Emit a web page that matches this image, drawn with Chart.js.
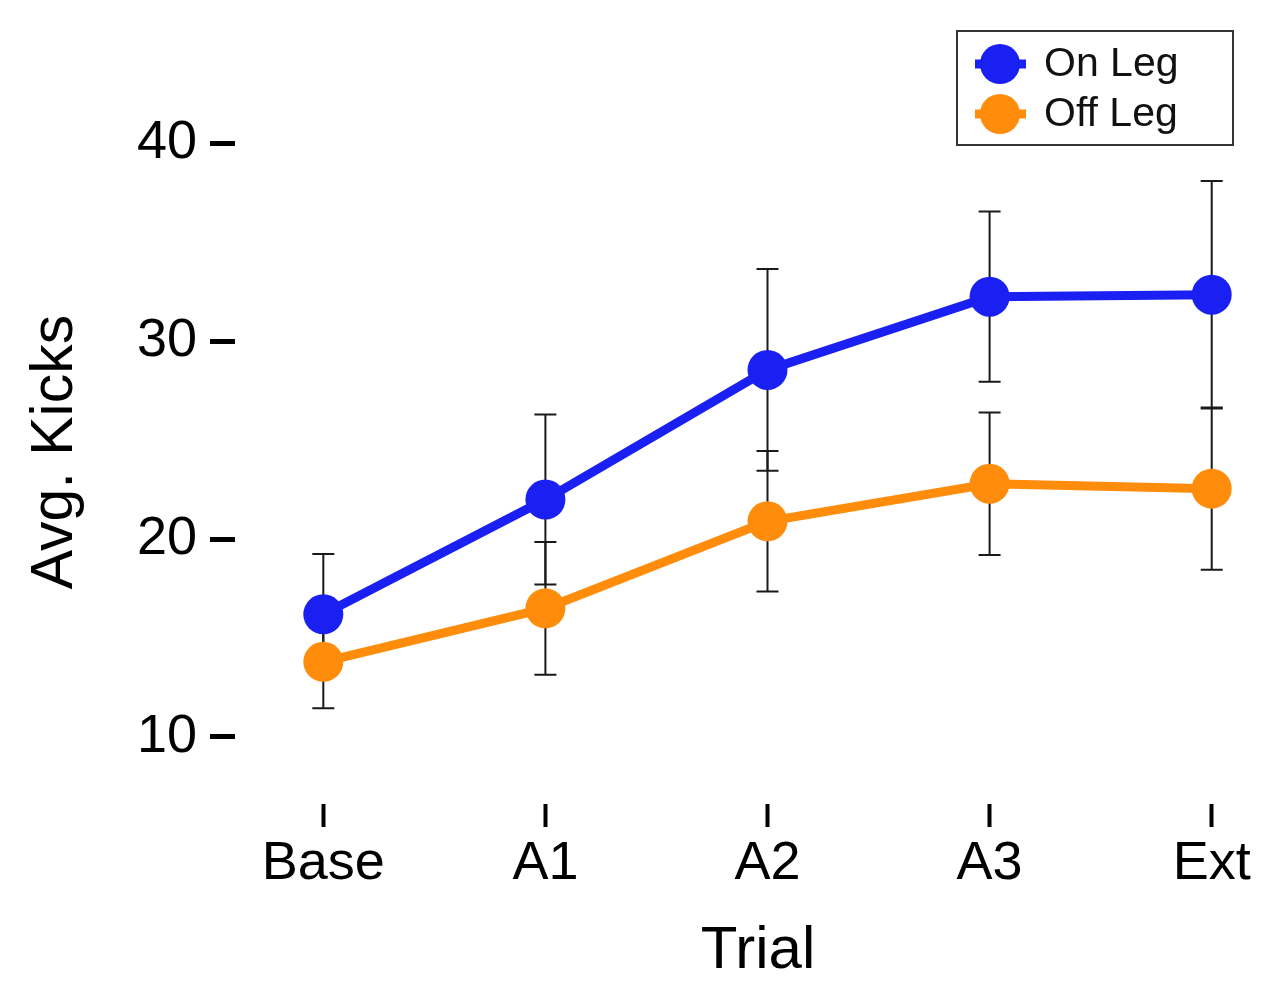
<!DOCTYPE html>
<html>
<head>
<meta charset="utf-8">
<script src="https://cdn.jsdelivr.net/npm/chart.js@4/dist/chart.umd.min.js"></script>
<style>
  html, body { margin: 0; padding: 0; background: #fff; }
  #wrap { width: 1281px; height: 988px; }
</style>
</head>
<body>
<div id="wrap"><canvas id="c" width="1281" height="988"></canvas></div>
<script>
const categories = ['Base', 'A1', 'A2', 'A3', 'Ext'];
const onLeg = [16.2, 22.0, 28.55, 32.25, 32.35];
const onLegErr = [3.05, 4.3, 5.1, 4.3, 5.75];
const offLeg = [13.8, 16.5, 20.9, 22.8, 22.55];
const offLegErr = [2.35, 3.35, 3.55, 3.6, 4.1];
const yTicks = [10, 20, 30, 40];
const seriesNames = ['On Leg', 'Off Leg'];
const seriesColors = ['#1A1FF2', '#FF8C0A'];

const FONT = "'Liberation Sans', Arial, Helvetica, sans-serif";

const toPoints = arr => arr.map((v, i) => ({ x: i, y: v }));

const errorBars = {
  id: 'errorBars',
  beforeDatasetsDraw(chart) {
    const ctx = chart.ctx, xs = chart.scales.x, ys = chart.scales.y;
    const sets = [[onLeg, onLegErr], [offLeg, offLegErr]];
    ctx.save();
    ctx.strokeStyle = '#1a1a1a';
    ctx.lineWidth = 2;
    sets.forEach(([vals, errs]) => {
      vals.forEach((v, i) => {
        const x = xs.getPixelForValue(i);
        const yt = ys.getPixelForValue(v + errs[i]);
        const yb = ys.getPixelForValue(v - errs[i]);
        ctx.beginPath();
        ctx.moveTo(x, yt); ctx.lineTo(x, yb);
        ctx.moveTo(x - 11, yt); ctx.lineTo(x + 11, yt);
        ctx.moveTo(x - 11, yb); ctx.lineTo(x + 11, yb);
        ctx.stroke();
      });
    });
    ctx.restore();
  }
};

const boxLegend = {
  id: 'boxLegend',
  afterDraw(chart) {
    const ctx = chart.ctx;
    const L = 957, T = 31, R = 1233, B = 145;
    ctx.save();
    ctx.strokeStyle = '#333';
    ctx.lineWidth = 2;
    ctx.strokeRect(L, T, R - L, B - T);
    const rows = [64, 114];
    chart.data.datasets.forEach((ds, k) => {
      const y = rows[k];
      ctx.strokeStyle = ds.borderColor;
      ctx.lineWidth = 9;
      ctx.beginPath(); ctx.moveTo(975, y); ctx.lineTo(1026, y); ctx.stroke();
      ctx.fillStyle = ds.borderColor;
      ctx.beginPath(); ctx.arc(1000, y, 20, 0, Math.PI * 2); ctx.fill();
      ctx.fillStyle = '#111';
      ctx.font = '41px ' + FONT;
      ctx.textBaseline = 'middle';
      ctx.textAlign = 'left';
      ctx.fillText(ds.label, 1044, y + 1);
    });
    ctx.restore();
  }
};

new Chart(document.getElementById('c'), {
  type: 'line',
  data: {
    datasets: [
      { label: seriesNames[0], data: toPoints(onLeg), borderColor: seriesColors[0], backgroundColor: seriesColors[0],
        pointBackgroundColor: seriesColors[0], borderWidth: 9, pointRadius: 20, pointBorderWidth: 0, tension: 0, fill: false },
      { label: seriesNames[1], data: toPoints(offLeg), borderColor: seriesColors[1], backgroundColor: seriesColors[1],
        pointBackgroundColor: seriesColors[1], borderWidth: 9, pointRadius: 20, pointBorderWidth: 0, tension: 0, fill: false }
    ]
  },
  options: {
    responsive: false,
    animation: false,
    layout: { autoPadding: false, padding: { top: 100, left: 0, right: 0, bottom: 0 } },
    plugins: { legend: { display: false }, tooltip: { enabled: false } },
    scales: {
      x: {
        type: 'linear',
        min: -0.3976, max: 4.312,
        afterBuildTicks: s => { s.ticks = categories.map((c, i) => ({ value: i })); },
        afterFit: s => { s.height = 184; s.paddingLeft = 0; s.paddingRight = 0; },
        border: { display: false },
        grid: { drawOnChartArea: false, drawTicks: true, tickLength: 23, tickWidth: 4, tickColor: '#000' },
        ticks: { color: '#000', font: { family: FONT, size: 54 }, padding: 5, maxRotation: 0, autoSkip: false,
                 callback: v => categories[v] },
        title: { display: true, text: 'Trial', color: '#000', font: { family: FONT, size: 60 }, padding: { top: 0, bottom: 1 } }
      },
      y: {
        min: 6.613, max: 42.19,
        afterBuildTicks: s => { s.ticks = yTicks.map(v => ({ value: v })); },
        afterFit: s => { s.width = 235; s.paddingTop = 0; s.paddingBottom = 0; },
        border: { display: false },
        grid: { drawOnChartArea: false, drawTicks: true, tickLength: 25, tickWidth: 5, tickColor: '#000' },
        ticks: { color: '#000', font: { family: FONT, size: 54 }, padding: 13 },
        title: { display: true, text: 'Avg. Kicks', color: '#000', font: { family: FONT, size: 59 }, padding: { top: 20, bottom: 0 } }
      }
    }
  },
  plugins: [errorBars, boxLegend]
});
</script>
</body>
</html>
